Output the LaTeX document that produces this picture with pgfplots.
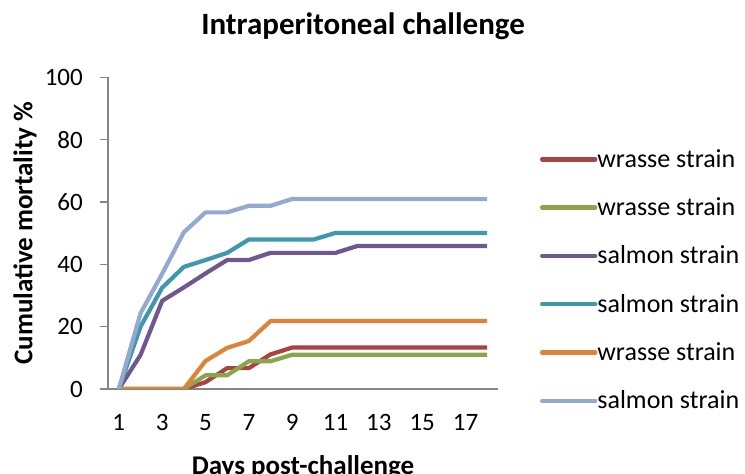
\documentclass[border=0pt]{standalone}
\usepackage{fontspec}
\setmainfont{Carlito}
\usepackage{pgfplots}
\pgfplotsset{compat=1.18}

\definecolor{cRed}{RGB}{167,68,64}
\definecolor{cGreen}{RGB}{137,166,76}
\definecolor{cPurple}{RGB}{111,87,143}
\definecolor{cTeal}{RGB}{64,152,175}
\definecolor{cOrange}{RGB}{222,131,58}
\definecolor{cLBlue}{RGB}{147,169,207}
\definecolor{axisgray}{RGB}{134,134,134}

\begin{document}
\begin{tikzpicture}
\path[use as bounding box] (0,0) rectangle (745bp,474bp);
\begin{axis}[
    at={(108bp,85bp)}, anchor=south west,
    scale only axis, width=390bp, height=311.5bp,
    xmin=0.5, xmax=18.5, ymin=0, ymax=100,
    xtick={1,3,...,17}, ytick={0,20,...,100},
    axis x line=bottom, axis y line=left,
    axis line style={-, draw=axisgray, line width=1.4bp},
    xtick style={draw=none},
    ytick style={draw=axisgray, line width=1.4bp},
    tick align=outside, major tick length=8bp,
    /pgf/number format/assume math mode=true,
    ticklabel style={font=\fontsize{25bp}{30bp}\selectfont, inner sep=0pt},
    xticklabel style={anchor=north, yshift=-17bp},
    yticklabel style={anchor=east, xshift=-17bp},
    title={Intraperitoneal challenge},
    title style={at={(0.654,1.120)}, anchor=base, font=\bfseries\fontsize{31bp}{36bp}\selectfont, inner sep=0pt},
    xlabel={Days post-challenge},
    xlabel style={at={(0.5,-0.275)}, anchor=base, font=\bfseries\fontsize{27bp}{32bp}\selectfont, inner sep=0pt},
    ylabel={Cumulative mortality \%},
    ylabel style={at={(-0.1936,0.5)}, anchor=base, font=\bfseries\fontsize{27bp}{32bp}\selectfont, inner sep=0pt},
    no marks,
    every axis plot/.append style={line width=4.2bp, line join=round},
    legend style={at={(1.1077,0.7695)}, anchor=north west, draw=none, fill=none,
        inner sep=0pt, outer sep=0pt, row sep=24.3bp,
        font=\fontsize{26bp}{30bp}\selectfont,
        nodes={inner sep=0pt, text height=18bp, text depth=6bp, anchor=base west},
        /tikz/column sep=0bp},
    legend cell align=left,
    legend image code/.code={\draw[#1, line width=4.4bp, line cap=round] (-2bp,8bp) -- (51bp,8bp);},
]
\addplot[cRed] coordinates {
 (1,0) (2,0) (3,0) (4,0) (5,2.2) (6,6.7) (7,6.7) (8,11.1) (9,13.3) (10,13.3)
 (11,13.3) (12,13.3) (13,13.3) (14,13.3) (15,13.3) (16,13.3) (17,13.3) (18,13.3)};
\addlegendentry{wrasse strain}
\addplot[cGreen] coordinates {
 (1,0) (2,0) (3,0) (4,0) (5,4.4) (6,4.4) (7,8.9) (8,8.9) (9,11.0) (10,11.0)
 (11,11.0) (12,11.0) (13,11.0) (14,11.0) (15,11.0) (16,11.0) (17,11.0) (18,11.0)};
\addlegendentry{wrasse strain}
\addplot[cPurple] coordinates {
 (1,0) (2,10.9) (3,28.3) (4,32.6) (5,37.1) (6,41.4) (7,41.4) (8,43.7) (9,43.7) (10,43.7)
 (11,43.7) (12,45.9) (13,45.9) (14,45.9) (15,45.9) (16,45.9) (17,45.9) (18,45.9)};
\addlegendentry{salmon strain}
\addplot[cTeal] coordinates {
 (1,0) (2,20.0) (3,32.5) (4,39.2) (5,41.4) (6,43.7) (7,48.0) (8,48.0) (9,48.0) (10,48.0)
 (11,50.1) (12,50.1) (13,50.1) (14,50.1) (15,50.1) (16,50.1) (17,50.1) (18,50.1)};
\addlegendentry{salmon strain}
\addplot[cOrange] coordinates {
 (1,0) (2,0) (3,0) (4,0) (5,9.0) (6,13.2) (7,15.4) (8,21.8) (9,21.8) (10,21.8)
 (11,21.8) (12,21.8) (13,21.8) (14,21.8) (15,21.8) (16,21.8) (17,21.8) (18,21.8)};
\addlegendentry{wrasse strain}
\addplot[cLBlue] coordinates {
 (1,0) (2,24.3) (3,37.0) (4,50.3) (5,56.7) (6,56.7) (7,58.8) (8,58.8) (9,61.0) (10,61.0)
 (11,61.0) (12,61.0) (13,61.0) (14,61.0) (15,61.0) (16,61.0) (17,61.0) (18,61.0)};
\addlegendentry{salmon strain}
\end{axis}
\end{tikzpicture}
\end{document}
